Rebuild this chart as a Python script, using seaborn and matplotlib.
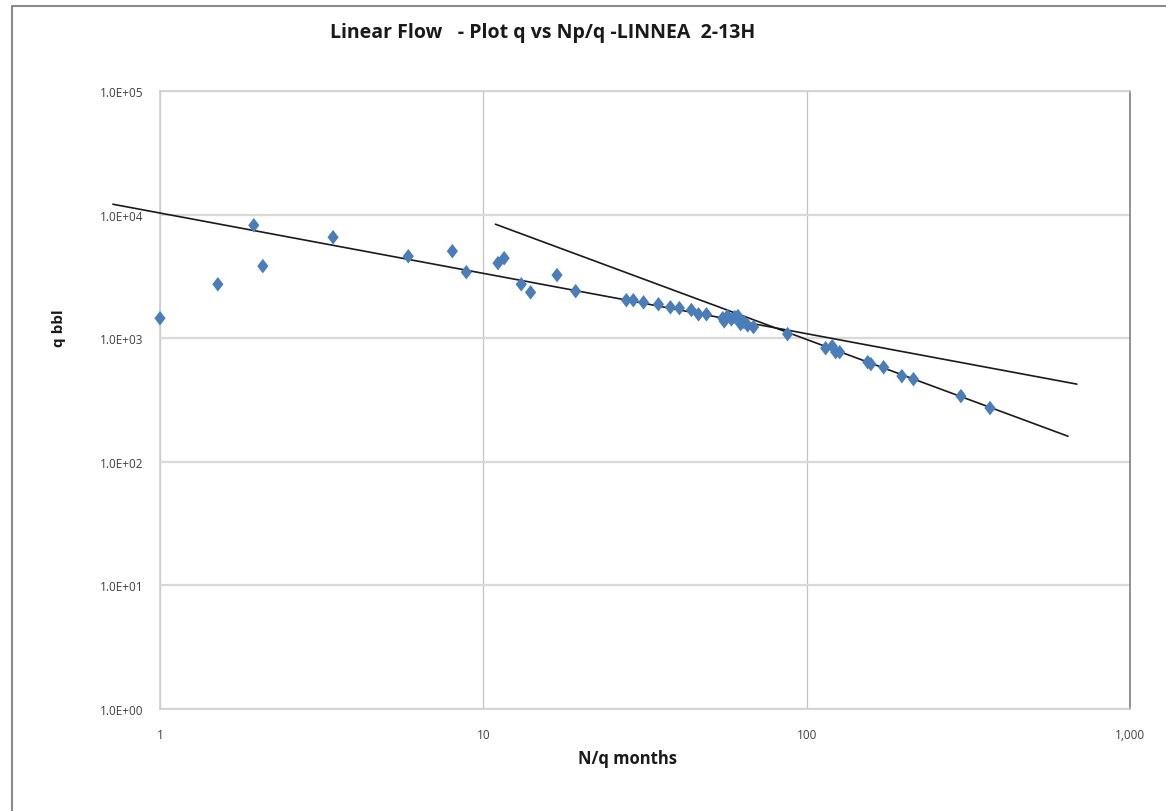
import numpy as np
import pandas as pd
import seaborn as sns
import matplotlib
matplotlib.use("Agg")
import matplotlib.pyplot as plt
from matplotlib.path import Path
from matplotlib.lines import Line2D

# ---- data ----
np_q = [1.0, 1.51, 1.95, 2.08, 3.43, 5.86, 8.02, 8.86, 11.1, 11.6, 13.1, 14.0,
        16.9, 19.3, 27.7, 29.1, 31.3, 34.8, 37.9, 40.4, 44.0, 46.3, 49.0,
        55.0, 55.6, 56.9, 58.5, 60.0, 61.3, 62.5, 64.0, 65.7, 68.5, 87.3,
        114.5, 120.0, 123.0, 126.5, 154.5, 158.0, 173.0, 197.0, 214.0, 300.0, 369.0]
q_bbl = [1450, 2730, 8200, 3830, 6560, 4600, 5060, 3420, 4050, 4440, 2730, 2350,
         3240, 2400, 2030, 2030, 1950, 1880, 1780, 1750, 1690, 1560, 1560,
         1450, 1370, 1510, 1420, 1480, 1510, 1300, 1350, 1270, 1230, 1080,
         830, 861, 771, 771, 640, 617, 582, 493, 466, 340, 272]

trend1_x = [0.715, 685.0]
trend1_y = [12130, 425]
trend2_x = [10.9, 643.0]
trend2_y = [8360, 161]

x_ticks = [1, 10, 100, 1000]
x_tick_labels = ["1", "10", "100", "1,000"]
y_ticks = [1, 10, 100, 1000, 10000, 100000]
y_tick_labels = ["1.0E+00", "1.0E+01", "1.0E+02", "1.0E+03", "1.0E+04", "1.0E+05"]

title = "Linear Flow   - Plot q vs Np/q -LINNEA  2-13H"
x_label = "N/q months"
y_label = "q bbl"

df = pd.DataFrame({"x": np_q, "y": q_bbl})

sns.set_theme(style="white")
plt.rcParams["font.family"] = ["Open Sans", "DejaVu Sans"]

fig = plt.figure(figsize=(11.66, 8.12), dpi=100)
ax = fig.add_axes([160 / 1166, 102 / 812, 970 / 1166, 618 / 812])
ax.set_xscale("log")
ax.set_yscale("log")

# gridlines
ax.grid(True, axis="y", color="#d9d9d9", linewidth=1.6)
ax.grid(True, axis="x", color="#c4c4c4", linewidth=0.9)
ax.set_axisbelow(True)

diamond = Path([(0, 1), (0.77, 0), (0, -1), (-0.77, 0), (0, 1)],
               [Path.MOVETO, Path.LINETO, Path.LINETO, Path.LINETO, Path.CLOSEPOLY])

sns.lineplot(x=trend1_x, y=trend1_y, ax=ax, color="#1a1a1a", linewidth=1.2,
             estimator=None, sort=False, clip_on=False, zorder=3)
sns.lineplot(x=trend2_x, y=trend2_y, ax=ax, color="#1a1a1a", linewidth=1.2,
             estimator=None, sort=False, clip_on=False, zorder=3)
sns.scatterplot(data=df, x="x", y="y", ax=ax, marker=diamond, s=110,
                color="#4a7ebb", edgecolor="none", linewidth=0, zorder=4,
                clip_on=False)

ax.set_xlim(1, 1000)
ax.set_ylim(1, 100000)
ax.set_xticks(x_ticks)
ax.set_xticklabels(x_tick_labels)
ax.set_yticks(y_ticks)
ax.set_yticklabels(y_tick_labels)
ax.minorticks_off()
ax.tick_params(axis="both", which="major", length=5, width=1, colors="#595959",
               labelsize=8.5, direction="out")
ax.tick_params(axis="y", color="#d9d9d9", pad=7)
ax.tick_params(axis="x", color="#c4c4c4", pad=9)
for lbl in ax.get_xticklabels() + ax.get_yticklabels():
    lbl.set_color("#404040")

for side in ["left", "top", "bottom"]:
    ax.spines[side].set_color("#d0d0d0")
    ax.spines[side].set_linewidth(1.2)
ax.spines["right"].set_color("#808080")
ax.spines["right"].set_linewidth(1.2)

ax.set_xlabel(x_label, fontsize=12, fontweight="bold", color="#1a1a1a")
ax.xaxis.set_label_coords((627 - 160) / 970, (710 - 750) / 618)
ax.set_ylabel(y_label, fontsize=11, fontweight="bold", color="#1a1a1a")
ax.yaxis.set_label_coords((66 - 160) / 970, (710 - 328) / 618)

fig.text(543 / 1166, 1 - 33 / 812, title, ha="center", va="center",
         fontsize=14, fontweight="bold", color="#1a1a1a")

# outer chart border (top and left)
fig.add_artist(Line2D([12 / 1166, 1.0], [1 - 7 / 812, 1 - 7 / 812],
                      transform=fig.transFigure, color="#8c8c8c", linewidth=1.5))
fig.add_artist(Line2D([12 / 1166, 12 / 1166], [0.0, 1 - 7 / 812],
                      transform=fig.transFigure, color="#8c8c8c", linewidth=1.5))

fig.savefig("out.png", dpi=100)
